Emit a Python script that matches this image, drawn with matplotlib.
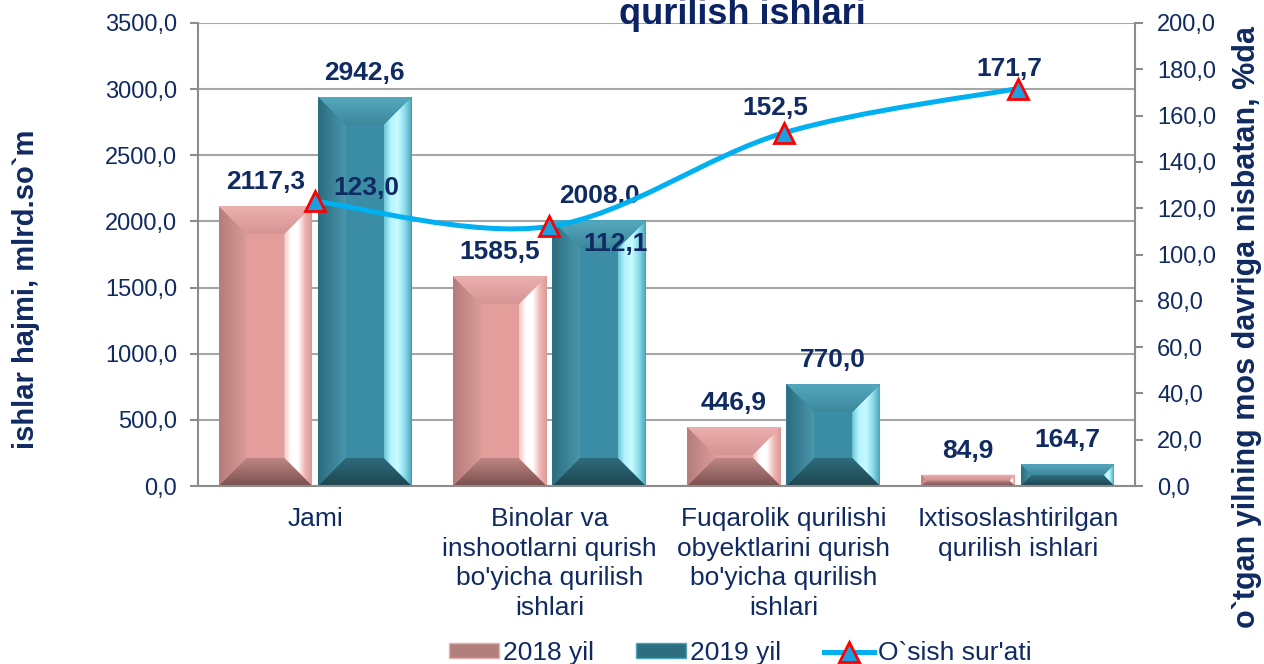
import numpy as np
import matplotlib
matplotlib.use('Agg')
import matplotlib.pyplot as plt
from matplotlib.patches import Polygon, Rectangle
from matplotlib.path import Path
from matplotlib.patches import PathPatch
from matplotlib.colors import LinearSegmentedColormap
from matplotlib.lines import Line2D
from matplotlib.ticker import FuncFormatter, MultipleLocator

plt.rcParams['font.family'] = ['Liberation Sans', 'DejaVu Sans']

# Data
categories = ["Jami",
              "Binolar va\ninshootlarni qurish\nbo'yicha qurilish\nishlari",
              "Fuqarolik qurilishi\nobyektlarini qurish\nbo'yicha qurilish\nishlari",
              "Ixtisoslashtirilgan\nqurilish ishlari"]
vals_2018 = [2117.3, 1585.5, 446.9, 84.9]
vals_2019 = [2942.6, 2008.0, 770.0, 164.7]
growth = [123.0, 112.1, 152.5, 171.7]
series_names = ["2018 yil", "2019 yil", "O`sish sur'ati"]
title_text = "qurilish ishlari"
ylabel_left = "ishlar hajmi, mlrd.so`m"
ylabel_right = "o`tgan yilning mos davriga nisbatan, %da"

# label offsets for the growth line (pixels)
growth_offsets = [(51, 13), (66, -18), (-8, 25), (-9, 20)]

navy = '#102A62'
grid_c = '#A6A6A6'

def fmt(v, pos=None):
    return f"{v:.1f}".replace('.', ',')

W, H, DPI = 12.64, 6.64, 100
fig = plt.figure(figsize=(W, H), dpi=DPI)
ax_rect = [198 / 1264, 1 - 486 / 664, (1135 - 198) / 1264, (486 - 23) / 664]
ax = fig.add_axes(ax_rect)
ax2 = ax.twinx()
ax2.patch.set_visible(False)

x = np.arange(len(categories))
bw = 0.4
off = 0.212
ax.set_xlim(-0.5, len(categories) - 0.5)
ax.set_ylim(0, 3500)
ax2.set_ylim(0, 200)
ax.set_autoscale_on(False)

pink = dict(face='#E39E9C',
            top=['#ECB0AE', '#D49593'],
            left=['#B57C7A', '#DA9B99'],
            right=['#F2C4C2', '#FFFFFF', '#FFFFFF', '#F0B6B4', '#D99896'],
            bottom=['#7A504F', '#BE8684'])
teal = dict(face='#3A8DA4',
            top=['#55A9BE', '#3D879C'],
            left=['#2B6C7F', '#4A96AB'],
            right=['#6CC4D6', '#B6F5FF', '#C8FBFF', '#8ADCEA', '#4AA2B7'],
            bottom=['#1D4550', '#2E6C7D'])

bars1 = ax.bar(x - off, vals_2018, bw, color=pink['face'], zorder=2, label=series_names[0])
bars2 = ax.bar(x + off, vals_2019, bw, color=teal['face'], zorder=2, label=series_names[1])

# pixel size of one data unit
px_x = ax_rect[2] * W * DPI / (len(categories))
px_y = ax_rect[3] * H * DPI / 3500


def grad_poly(verts, cols, horizontal, z):
    poly = Polygon(verts, closed=True, facecolor='none', edgecolor='none')
    ax.add_patch(poly)
    xs = [v[0] for v in verts]
    ys = [v[1] for v in verts]
    cmap = LinearSegmentedColormap.from_list('g', cols)
    g = np.linspace(0, 1, 256)
    img = g.reshape(1, -1) if horizontal else g.reshape(-1, 1)
    im = ax.imshow(img, cmap=cmap, extent=[min(xs), max(xs), min(ys), max(ys)],
                   origin='lower', aspect='auto', zorder=z, interpolation='bilinear')
    im.set_clip_path(poly)


def bevel(rect, st):
    x0 = rect.get_x()
    w = rect.get_width()
    h = rect.get_height()
    x1 = x0 + w
    d = min(28, w * px_x / 2, h * px_y / 2)
    bx = d / px_x
    by = d / px_y
    grad_poly([(x0, h), (x1, h), (x1 - bx, h - by), (x0 + bx, h - by)], st['top'][::-1], False, 2.2)
    grad_poly([(x0, 0), (x1, 0), (x1 - bx, by), (x0 + bx, by)], st['bottom'], False, 2.2)
    grad_poly([(x0, 0), (x0 + bx, by), (x0 + bx, h - by), (x0, h)], st['left'], True, 2.1)
    grad_poly([(x1, 0), (x1 - bx, by), (x1 - bx, h - by), (x1, h)], st['right'], True, 2.1)


for r in bars1:
    bevel(r, pink)
for r in bars2:
    bevel(r, teal)

# bar value labels
for bars in (bars1, bars2):
    for r in bars:
        ax.annotate(fmt(r.get_height()), (r.get_x() + r.get_width() / 2, r.get_height()),
                    xytext=(0, 24), textcoords='offset pixels', ha='center', va='center',
                    fontsize=19, fontweight='bold', color=navy, zorder=5)

# smoothed growth line (cubic Bezier through the points)
pts = np.column_stack([x, growth]).astype(float)
verts = [tuple(pts[0])]
codes = [Path.MOVETO]
n = len(pts)
for i in range(n - 1):
    p0 = pts[max(i - 1, 0)]
    p1 = pts[i]
    p2 = pts[i + 1]
    p3 = pts[min(i + 2, n - 1)]
    c1 = p1 + (p2 - p0) / 6
    c2 = p2 - (p3 - p1) / 6
    verts += [tuple(c1), tuple(c2), tuple(p2)]
    codes += [Path.CURVE4] * 3
ax2.add_patch(PathPatch(Path(verts, codes), facecolor='none', edgecolor='#00B0F0',
                        lw=3.6, capstyle='round', zorder=3))
ax2.plot(x, growth, linestyle='none', marker='^', markersize=15, markerfacecolor='#1BA1E2',
         markeredgecolor='#FF0000', markeredgewidth=2, zorder=4)
for xi, gi, (dx, dy) in zip(x, growth, growth_offsets):
    ax2.annotate(fmt(gi), (xi, gi), xytext=(dx, dy), textcoords='offset pixels',
                 ha='center', va='center', fontsize=19, fontweight='bold', color=navy, zorder=5)

# axes styling
ax.yaxis.set_major_locator(MultipleLocator(500))
ax2.yaxis.set_major_locator(MultipleLocator(20))
ax.yaxis.set_major_formatter(FuncFormatter(fmt))
ax2.yaxis.set_major_formatter(FuncFormatter(fmt))
ax.set_axisbelow(True)
ax.grid(axis='y', color=grid_c, lw=1.5)
for s in ['top', 'right']:
    ax.spines[s].set_visible(False)
for s in ['top', 'left', 'bottom']:
    ax2.spines[s].set_visible(False)
for sp in (ax.spines['left'], ax.spines['bottom'], ax2.spines['right']):
    sp.set_color('#8C8C8C')
    sp.set_linewidth(1.5)
ax.tick_params(axis='y', length=6, width=1.5, color='#8C8C8C', labelsize=17, labelcolor=navy, pad=9)
ax2.tick_params(axis='y', length=6, width=1.5, color='#8C8C8C', labelsize=17, labelcolor=navy, pad=10)
ax.set_xticks(x)
ax.set_xticklabels(categories, fontsize=19, color=navy, linespacing=1.3)
ax.tick_params(axis='x', length=0, pad=15)

# axis titles
fig.text(26 / 1264, 1 - 289 / 664, ylabel_left, rotation=90, ha='center', va='center',
         fontsize=21, fontweight='bold', color=navy)
fig.text(1247 / 1264, 1 - 327 / 664, ylabel_right, rotation=90, ha='center', va='center',
         fontsize=22, fontweight='bold', color=navy)

fig.text(742 / 1264, 1 - 24 / 664, title_text, ha='center', va='baseline',
         fontsize=26, fontweight='bold', color='#0B2265')

# legend
handles = [Rectangle((0, 0), 1, 1, facecolor='#B27F7D', edgecolor='#E8B0AE', lw=1),
           Rectangle((0, 0), 1, 1, facecolor='#2D6F80', edgecolor='#4FA3B8', lw=1),
           Line2D([], [], color='#00B0F0', lw=3.6, marker='^', markersize=15,
                  markerfacecolor='#1BA1E2', markeredgecolor='#FF0000', markeredgewidth=2)]
fig.legend(handles, series_names, loc='center', bbox_to_anchor=(740 / 1264, 1 - 653 / 664),
           ncol=3, frameon=False, fontsize=19, labelcolor=navy, handlelength=1.9,
           handleheight=0.5, handletextpad=0.15, columnspacing=1.6)

fig.savefig('out.png', dpi=DPI)
